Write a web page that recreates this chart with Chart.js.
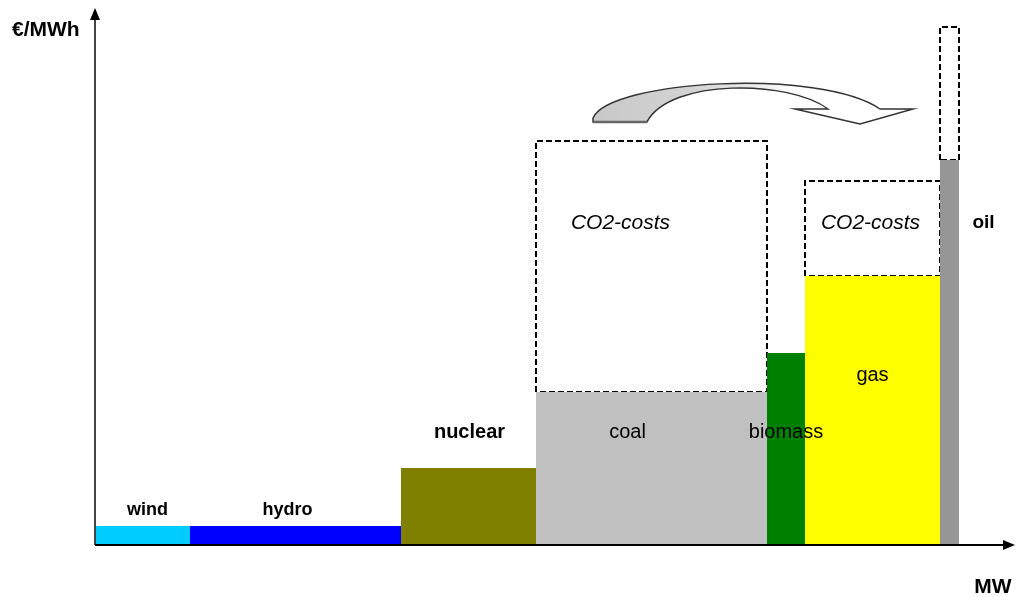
<!DOCTYPE html>
<html>
<head>
<meta charset="utf-8">
<script src="https://cdn.jsdelivr.net/npm/chart.js@4.4.1/dist/chart.umd.min.js"></script>
<style>
  html, body { margin: 0; padding: 0; background: #fff; }
  #wrap { width: 1019px; height: 597px; }
</style>
</head>
<body>
<div id="wrap"><canvas id="c" width="1019" height="597"></canvas></div>
<script>
// Merit order: each technology is a block, width = capacity, height = cost.
const technologies = ["wind", "hydro", "nuclear", "coal", "biomass", "gas", "oil"];
const capacityMW = [9.5, 21.1, 13.5, 23.1, 3.8, 13.5, 1.9];
const fuelCost = [3.8, 3.8, 15.4, 30.6, 38.4, 53.8, 77];
const co2Cost = [0, 0, 0, 50.2, 0, 19, 26.6];
const co2Label = "CO2-costs";
const yAxisLabel = "€/MWh";
const xAxisLabel = "MW";

// Colours and label look (kept apart from the data).
const COLORS = ["#00CCFF", "#0000FF", "#808000", "#C0C0C0", "#008000", "#FFFF00", "#969696"];
const LABEL_Y = [7, 7, 22.6, 22.6, 22.6, 34, 64.4];
const LABEL_DX = [5, -8, 1, -24, 0, 0, 34];
const LABEL_FONT = ["bold 18px", "bold 18px", "bold 20px", "20px", "20px", "20px", "bold 19px"];
const FONT = "'Liberation Sans', Arial, sans-serif";

// Cumulative start of each block on the MW axis.
const starts = [];
capacityMW.reduce((acc, w, i) => { starts[i] = acc; return acc + w; }, 0);

const blockSets = technologies.map((t, i) => {
  const x0 = starts[i], x1 = starts[i] + capacityMW[i], h = fuelCost[i];
  return {
    label: t,
    data: [{ x: x0, y: 0 }, { x: x0, y: h }, { x: x1, y: h }, { x: x1, y: 0 }],
    showLine: true, fill: "origin", borderWidth: 0, pointRadius: 0,
    backgroundColor: COLORS[i], borderColor: COLORS[i],
  };
});

const co2Sets = technologies.map((t, i) => {
  if (!co2Cost[i]) return null;
  const x0 = starts[i], x1 = starts[i] + capacityMW[i], h = fuelCost[i], top = h + co2Cost[i];
  return {
    label: t + " CO2",
    data: [{ x: x0, y: h }, { x: x0, y: top }, { x: x1, y: top }, { x: x1, y: h }, { x: x0, y: h }],
    showLine: true, fill: false, borderWidth: 2, borderDash: [6, 3], pointRadius: 0,
    borderColor: "#000", backgroundColor: "transparent",
  };
}).filter(Boolean);

// Axes with arrows, labels, and the curved "shift" arrow.
const decor = {
  id: "decor",
  afterDatasetsDraw(chart) {
    const { ctx, chartArea: a, scales: { x, y } } = chart;
    ctx.save();
    const y0 = y.getPixelForValue(0), x0 = x.getPixelForValue(0);

    // curved arrow
    ctx.beginPath();
    ctx.moveTo(593, 118);
    ctx.bezierCurveTo(610, 80, 820, 68, 880, 109);
    ctx.lineTo(913, 109);
    ctx.lineTo(860, 124);
    ctx.lineTo(795, 109);
    ctx.lineTo(828, 109);
    ctx.bezierCurveTo(790, 80, 670, 78, 647, 122);
    ctx.lineTo(593, 122);
    ctx.closePath();
    const g = ctx.createLinearGradient(593, 0, 800, 0);
    g.addColorStop(0, "#C8C8C8");
    g.addColorStop(0.5, "#D4D4D4");
    g.addColorStop(1, "#FFFFFF");
    ctx.fillStyle = g;
    ctx.fill();
    ctx.lineWidth = 1.5;
    ctx.strokeStyle = "#333";
    ctx.stroke();
    ctx.lineWidth = 2.5;
    ctx.strokeStyle = "#666";
    ctx.beginPath(); ctx.moveTo(593, 122); ctx.lineTo(647, 122); ctx.stroke();

    // axes
    ctx.lineWidth = 2;
    ctx.strokeStyle = "#444";
    ctx.beginPath(); ctx.moveTo(x0, y0); ctx.lineTo(x0, a.top + 8); ctx.stroke();
    ctx.strokeStyle = "#000";
    ctx.beginPath(); ctx.moveTo(x0, y0); ctx.lineTo(a.right - 8, y0); ctx.stroke();
    ctx.fillStyle = "#000";
    ctx.beginPath(); ctx.moveTo(x0, a.top); ctx.lineTo(x0 - 5, a.top + 12); ctx.lineTo(x0 + 5, a.top + 12); ctx.closePath(); ctx.fill();
    ctx.beginPath(); ctx.moveTo(a.right, y0); ctx.lineTo(a.right - 12, y0 - 5); ctx.lineTo(a.right - 12, y0 + 5); ctx.closePath(); ctx.fill();

    // labels
    ctx.fillStyle = "#000";
    ctx.textBaseline = "middle";
    ctx.textAlign = "center";
    technologies.forEach((t, i) => {
      const cx = x.getPixelForValue(starts[i] + capacityMW[i] / 2) + LABEL_DX[i];
      ctx.font = LABEL_FONT[i] + " " + FONT;
      ctx.fillText(t, cx, y.getPixelForValue(LABEL_Y[i]));
    });
    ctx.font = "italic 21px " + FONT;
    [[3, -31], [5, -2]].forEach(([i, dx]) => {
      ctx.fillText(co2Label, x.getPixelForValue(starts[i] + capacityMW[i] / 2) + dx, y.getPixelForValue(64.4));
    });
    ctx.font = "bold 21px " + FONT;
    ctx.textAlign = "left";
    ctx.fillText(yAxisLabel, 12, 30);
    ctx.textAlign = "center";
    ctx.fillText(xAxisLabel, 993, 587);
    ctx.restore();
  },
};

new Chart(document.getElementById("c"), {
  type: "scatter",
  data: { datasets: [...blockSets, ...co2Sets] },
  options: {
    responsive: false,
    animation: false,
    layout: { padding: { left: 95, top: 8, right: 4, bottom: 52 } },
    plugins: { legend: { display: false }, tooltip: { enabled: false } },
    scales: {
      x: { type: "linear", display: false, min: 0, max: 92 },
      y: { type: "linear", display: false, min: 0, max: 107.4 },
    },
  },
  plugins: [decor],
});
</script>
</body>
</html>
